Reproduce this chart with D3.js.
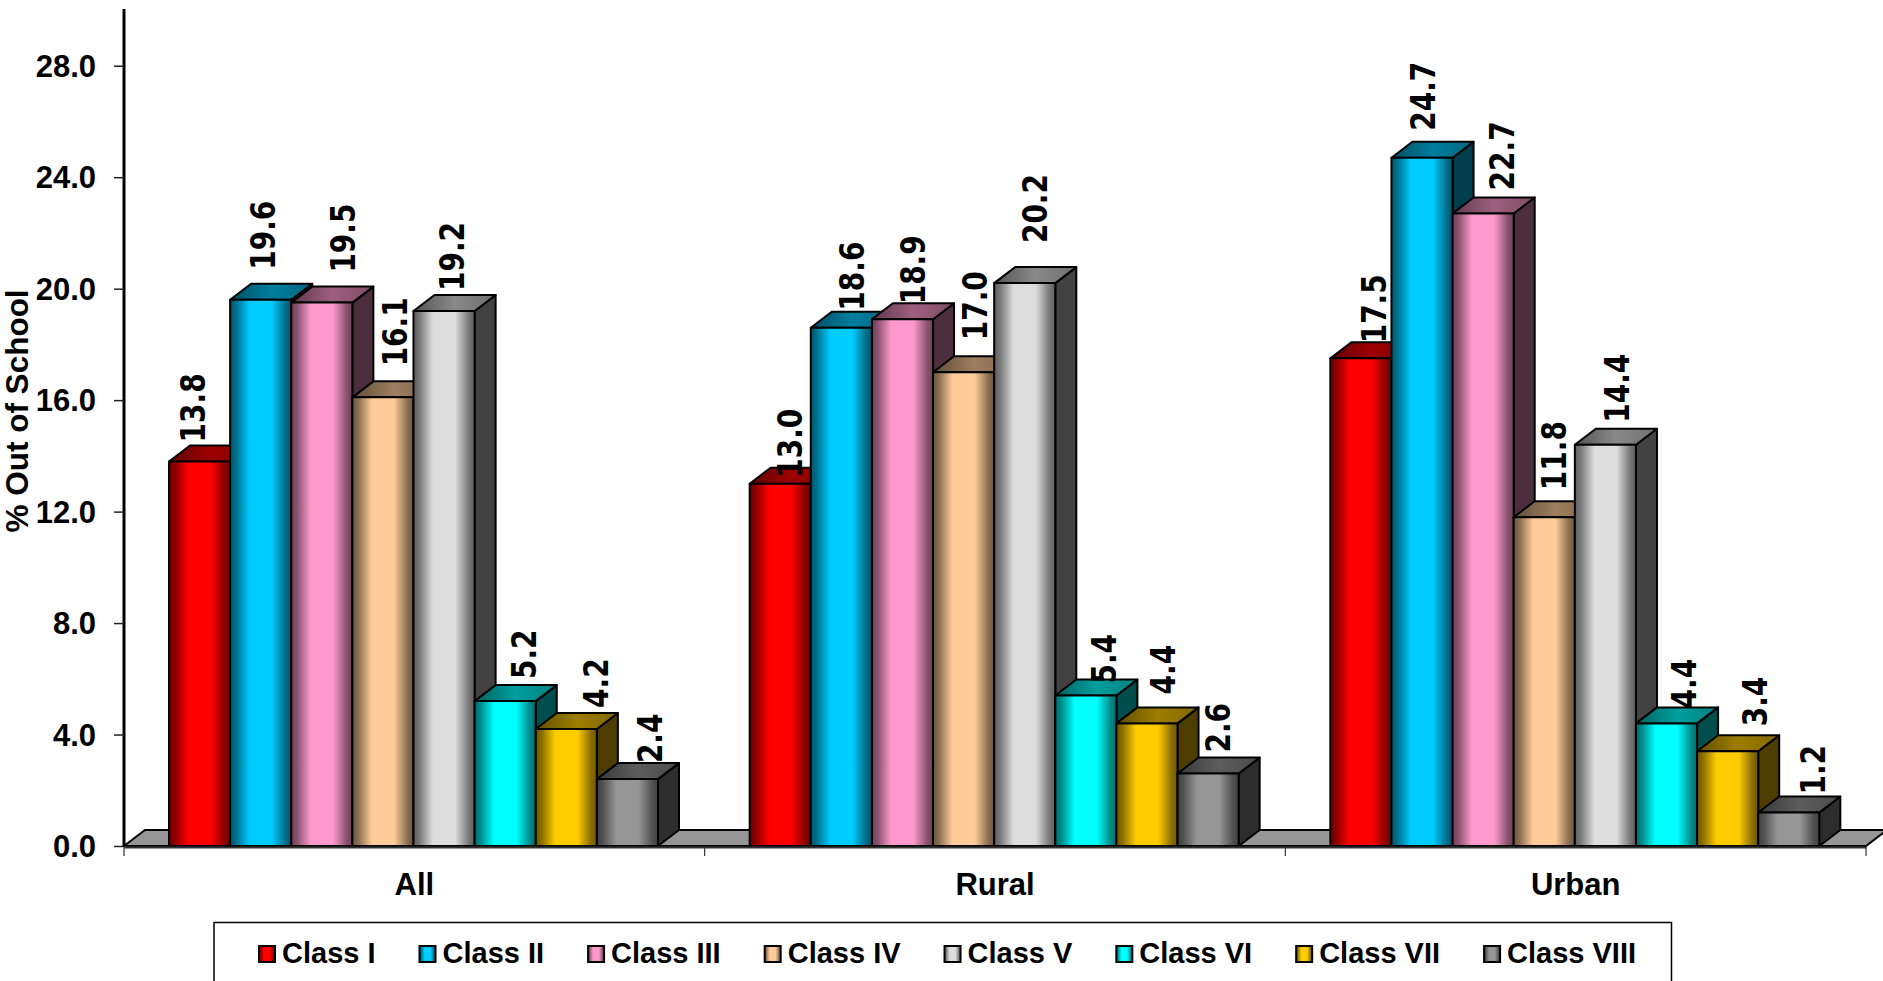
<!DOCTYPE html>
<html><head><meta charset="utf-8">
<script src="https://cdn.jsdelivr.net/npm/d3@7/dist/d3.min.js"></script>
<style>
html,body{margin:0;padding:0;background:#fff;overflow:hidden}
svg{display:block}
text{font-family:"Liberation Sans",Arial,sans-serif;font-weight:700;fill:#000}
text.lab{font-family:"DejaVu Sans",Verdana,sans-serif}
</style></head><body><svg id="c" width="1883" height="981"></svg>
<script>
const categories = ["All","Rural","Urban"];
const classes = ["Class I","Class II","Class III","Class IV","Class V","Class VI","Class VII","Class VIII"];
const allValues = [13.8,19.6,19.5,16.1,19.2,5.2,4.2,2.4];
const ruralValues = [13.0,18.6,18.9,17.0,20.2,5.4,4.4,2.6];
const urbanValues = [17.5,24.7,22.7,11.8,14.4,4.4,3.4,1.2];
const seriesValues = [allValues,ruralValues,urbanValues];
const yTicks = [0,4,8,12,16,20,24,28];
const colours = ["#FF0000","#00CCFF","#FF99CC","#FFCC99","#DDDDDD","#00FFFF","#FFCC00","#969696"];
// hand-placed data label offsets from the bar's centre/top, as in the original
const labelDx = [[-7,2,21,12,8,19,30,22],[10,11,10,11,10,18,16,10],[13,1,19,10,12,17,27,24]];
const labelDy = [[-19,-30,-30,-31,-20,-22,-21,-16],[-6,-17,-15,-32,-40,-12,-29,-21],[-15,-27,-23,-27,-22,-15,-25,-18]];

const svg = d3.select("#c");
const defs = svg.append("defs");
const depthX = 21, depthY = 16;
const x0 = d3.scaleBand().domain(categories).range([124,1866]);
const x1 = d3.scaleBand().domain(classes).range([45,534]);
const y = d3.scaleLinear().domain([0,30]).range([846,10]);
const shade = (c,k)=>{const r=d3.rgb(c);return d3.rgb(r.r*k,r.g*k,r.b*k).formatHex();};

colours.forEach((c,i)=>{
  const g=defs.append("linearGradient").attr("id","front"+i);
  [[0,.42],[.1,.55],[.32,1],[.68,1],[.9,.55],[1,.42]].forEach(([o,k])=>g.append("stop").attr("offset",o).attr("stop-color",shade(c,k)));
  const t=defs.append("linearGradient").attr("id","top"+i);
  [[0,.38],[.5,.62],[1,.5]].forEach(([o,k])=>t.append("stop").attr("offset",o).attr("stop-color",shade(c,k)));
});

// floor
const x0Start=x0.range()[0], x0End=x0.range()[1];
svg.append("path").attr("fill","#969696").attr("stroke","#000").attr("stroke-width",2)
  .attr("d",d3.line()([[x0Start,y(0)],[x0Start+depthX,y(0)-depthY],[x0End+depthX,y(0)-depthY],[x0End,y(0)]])+"Z");

// bars, painted left to right so later bars cover earlier side faces
const bars = svg.append("g").attr("stroke","#000").attr("stroke-width",2).attr("stroke-linejoin","round");
categories.forEach((cat,g)=>{
  seriesValues[g].forEach((v,i)=>{
    const l=x0(cat)+x1(classes[i]), w=x1.bandwidth(), t=y(v), b=y(0);
    bars.append("path").attr("fill",shade(colours[i],.3))
      .attr("d",d3.line()([[l+w,t],[l+w+depthX,t-depthY],[l+w+depthX,b-depthY],[l+w,b]])+"Z");
    bars.append("path").attr("fill",`url(#top${i})`)
      .attr("d",d3.line()([[l,t],[l+depthX,t-depthY],[l+w+depthX,t-depthY],[l+w,t]])+"Z");
    bars.append("rect").attr("x",l).attr("y",t).attr("width",w).attr("height",b-t).attr("fill",`url(#front${i})`);
  });
});

// data labels on top of the bars
const labels = svg.append("g");
categories.forEach((cat,g)=>{
  seriesValues[g].forEach((v,i)=>{
    const cx=x0(cat)+x1(classes[i])+x1.bandwidth()/2+labelDx[g][i];
    const by=y(v)+labelDy[g][i];
    labels.append("text").attr("class","lab").attr("transform",`translate(${cx},${by}) rotate(-90) scale(1,1.2)`)
      .attr("dy","0.36em").attr("font-size",28).text(v.toFixed(1));
  });
});

// axes
const yAxis = svg.append("g").attr("transform","translate(124,0)")
  .call(d3.axisLeft(y).tickValues(yTicks).tickFormat(d3.format(".1f")).tickSize(10).tickPadding(18));
yAxis.select(".domain").attr("stroke","#000").attr("stroke-width",3).attr("d",`M0,${y.range()[1]-1}V${y(0)}`);
yAxis.selectAll(".tick line").attr("stroke","#222").attr("stroke-width",1.5);
yAxis.selectAll("text").attr("font-size",31).attr("font-family",null).attr("dy","0.34em");

const xAxis = svg.append("g").attr("transform",`translate(0,${y(0)+1})`)
  .call(d3.axisBottom(x0).tickSize(0).tickPadding(26));
xAxis.select(".domain").attr("stroke","#333").attr("stroke-width",2);
xAxis.selectAll("text").attr("font-size",31).attr("font-family",null);
svg.append("g").selectAll("line").data([0,1,2,3]).join("line")
  .attr("x1",d=>x0Start+d*x0.step()).attr("x2",d=>x0Start+d*x0.step())
  .attr("y1",y(0)+1).attr("y2",y(0)+10).attr("stroke","#333").attr("stroke-width",1.2);

// axis title
svg.append("text").attr("transform",`translate(17,411) rotate(-90)`)
  .attr("text-anchor","middle").attr("dy","0.36em").attr("font-size",31.5).text("% Out of School");

// legend, open at the page's bottom edge
svg.append("path").attr("fill","none").attr("stroke","#000").attr("stroke-width",1.5)
  .attr("d","M214,985V922.5H1671.5V985");
let lx=259;
const legend=svg.append("g");
classes.forEach((c,i)=>{
  legend.append("rect").attr("x",lx).attr("y",946).attr("width",16).attr("height",16)
    .attr("fill",`url(#front${i})`).attr("stroke","#000").attr("stroke-width",2);
  const t=legend.append("text").attr("x",lx+23).attr("y",963).attr("font-size",29).text(c);
  lx+=23+t.node().getComputedTextLength()+44;
});
</script></body></html>
